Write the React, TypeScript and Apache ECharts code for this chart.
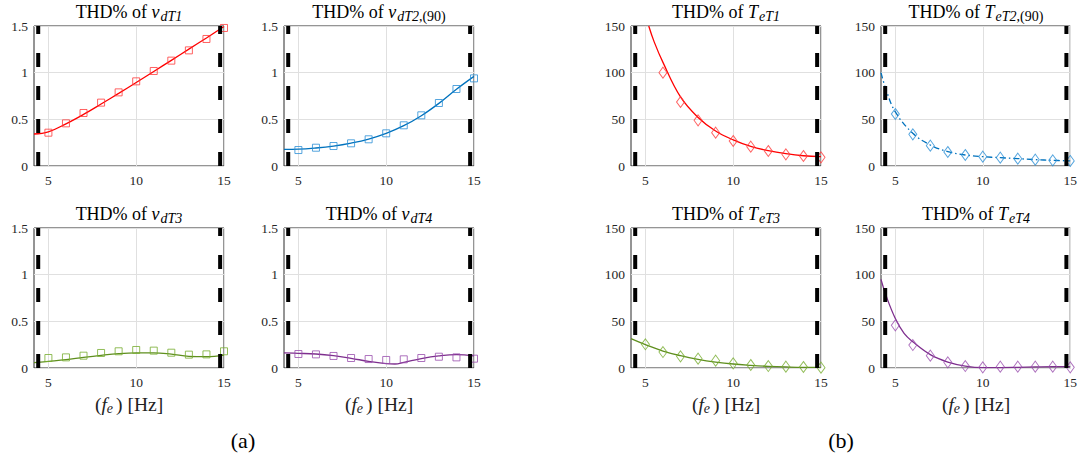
import React, { useEffect, useRef } from "react";
import * as echarts from "echarts";

// ---------- data ----------
const FE = [5, 6, 7, 8, 9, 10, 11, 12, 13, 14, 15];
const FE_TeT1 = [6, 7, 8, 9, 10, 11, 12, 13, 14, 15];

const X_MIN = 4.18;
const X_MAX = 15;
const LIMIT_LINES = [4.42, 14.78];
const X_TICKS = [5, 10, 15];

// measured THD% (markers)
const vdT1 = [0.357, 0.457, 0.568, 0.679, 0.789, 0.907, 1.018, 1.129, 1.239, 1.361, 1.479];
const vdT2 = [0.171, 0.196, 0.214, 0.243, 0.286, 0.35, 0.436, 0.543, 0.675, 0.825, 0.939];
const vdT3 = [0.107, 0.114, 0.132, 0.161, 0.179, 0.193, 0.186, 0.164, 0.143, 0.146, 0.179];
const vdT4 = [0.15, 0.146, 0.129, 0.107, 0.096, 0.086, 0.093, 0.107, 0.121, 0.114, 0.1];
const TeT1 = [100, 68.6, 48.9, 35.7, 26.8, 20.7, 16.1, 12.5, 10.7, 9.3];
const TeT2 = [55.7, 33.9, 21.8, 15, 11.8, 10, 8.9, 7.9, 6.8, 6.1, 5.4];
const TeT3 = [25.4, 17.1, 12.5, 10, 7.9, 5, 3.2, 2.1, 1.4, 1.1, 0.4];
const TeT4 = [45.7, 24.6, 13.2, 6.1, 2.1, 0.7, 1.4, 1.4, 1.4, 1.4, 0.7];

// fitted curves [fe, THD%]
const fit_vdT1 = [[4.18, 0.343], [5, 0.366], [6, 0.452], [7, 0.553], [8, 0.664], [9, 0.778], [10, 0.895], [11, 1.013], [12, 1.132], [13, 1.252], [14, 1.372], [15, 1.495]];
const fit_vdT2 = [[4.18, 0.178], [5, 0.18], [6, 0.193], [7, 0.214], [8, 0.246], [9, 0.289], [10, 0.35], [11, 0.432], [12, 0.539], [13, 0.671], [14, 0.822], [15, 0.96]];
const fit_vdT3 = [[4.18, 0.057], [5, 0.071], [6, 0.089], [7, 0.114], [8, 0.136], [9, 0.154], [10, 0.162], [11, 0.162], [12, 0.148], [13, 0.125], [14, 0.121], [15, 0.138]];
const fit_vdT4 = [[4.18, 0.161], [5, 0.157], [6, 0.15], [7, 0.132], [8, 0.104], [9, 0.071], [10, 0.046], [10.5, 0.043], [11, 0.06], [12, 0.1], [13, 0.129], [14, 0.143], [15, 0.129]];
const fit_TeT1 = [[5.19, 150], [5.5, 133], [6, 111], [7, 74], [8, 52], [9, 37.5], [10, 28], [11, 21], [12, 16.4], [13, 13.2], [14, 11], [15, 10]];
const fit_TeT2 = [[4.18, 100], [4.5, 80], [5, 58], [6, 35], [7, 22.5], [8, 15.4], [9, 11.8], [10, 10], [11, 8.9], [12, 7.9], [13, 6.8], [14, 6.1], [15, 5.4]];
const fit_TeT3 = [[4.18, 31.4], [5, 25], [6, 18.2], [7, 13.2], [8, 9.3], [9, 6.4], [10, 4.3], [11, 2.9], [12, 1.8], [13, 1.1], [14, 0.7], [15, 0.7]];
const fit_TeT4 = [[4.18, 95], [4.5, 76], [5, 53], [5.5, 37], [6, 28], [7, 14.3], [8, 6.4], [9, 2.1], [10, 0.4], [11, 0.4], [12, 0.7], [13, 1.1], [14, 1.4], [15, 1.4]];

const TITLES = [
  ["v", "dT1", ""],
  ["v", "dT2", ",(90)"],
  ["T", "eT1", ""],
  ["T", "eT2", ",(90)"],
  ["v", "dT3", ""],
  ["v", "dT4", ""],
  ["T", "eT3", ""],
  ["T", "eT4", ""],
];

const SERIF = "Liberation Serif";
const RED = "#ff0000";
const BLUE = "#0072bd";
const GREEN = "#5f8f1e";
const PURPLE = "#7e2f8e";

const COL_LEFT = [34, 284, 631, 881];
const ROW_TOP = [26, 228];
const GRID_W = 190;
const GRID_H = 140;

type Panel = {
  col: number;
  row: number;
  ymax: number;
  xs: number[];
  ys: number[];
  fit: number[][];
  symbol: string;
  color: string;
  marker: string;
  dash?: any;
};

const PANELS: Panel[] = [
  { col: 0, row: 0, ymax: 1.5, xs: FE, ys: vdT1, fit: fit_vdT1, symbol: "rect", color: RED, marker: "#ff3b3b" },
  { col: 1, row: 0, ymax: 1.5, xs: FE, ys: vdT2, fit: fit_vdT2, symbol: "rect", color: BLUE, marker: "#2b8fd6" },
  { col: 2, row: 0, ymax: 150, xs: FE_TeT1, ys: TeT1, fit: fit_TeT1, symbol: "diamond", color: RED, marker: "#ff3b3b" },
  { col: 3, row: 0, ymax: 150, xs: FE, ys: TeT2, fit: fit_TeT2, symbol: "diamond", color: BLUE, marker: "#2b8fd6", dash: [6, 3, 1.5, 3] },
  { col: 0, row: 1, ymax: 1.5, xs: FE, ys: vdT3, fit: fit_vdT3, symbol: "rect", color: GREEN, marker: "#77ac30" },
  { col: 1, row: 1, ymax: 1.5, xs: FE, ys: vdT4, fit: fit_vdT4, symbol: "rect", color: PURPLE, marker: "#9a4fae" },
  { col: 2, row: 1, ymax: 150, xs: FE, ys: TeT3, fit: fit_TeT3, symbol: "diamond", color: GREEN, marker: "#77ac30" },
  { col: 3, row: 1, ymax: 150, xs: FE, ys: TeT4, fit: fit_TeT4, symbol: "diamond", color: PURPLE, marker: "#9a4fae" },
];

const RICH = {
  n: { fontFamily: SERIF, fontSize: 18, fill: "#000", lineHeight: 22, verticalAlign: "middle" },
  i: { fontFamily: SERIF, fontSize: 18, fontStyle: "italic", fill: "#000", lineHeight: 22, verticalAlign: "middle", padding: [0, 1, 0, 0] },
  s: { fontFamily: SERIF, fontSize: 14, fontStyle: "italic", fill: "#000", lineHeight: 14, padding: [9, 0, 0, 0], verticalAlign: "middle" },
  u: { fontFamily: SERIF, fontSize: 14, fill: "#000", lineHeight: 14, padding: [9, 0, 0, 0], verticalAlign: "middle" },
};

function buildOption() {
  const grid: any[] = [];
  const xAxis: any[] = [];
  const yAxis: any[] = [];
  const series: any[] = [];
  const graphic: any[] = [];

  PANELS.forEach((p, k) => {
    const left = COL_LEFT[p.col];
    const top = ROW_TOP[p.row];
    grid.push({
      left,
      top,
      width: GRID_W,
      height: GRID_H,
      show: true,
      borderColor: "#2b2b2b",
      borderWidth: 1,
      backgroundColor: "transparent",
    });
    xAxis.push({
      type: "value",
      gridIndex: k,
      min: X_MIN,
      max: X_MAX,
      axisLine: { show: false },
      axisTick: { show: false, customValues: X_TICKS },
      axisLabel: {
        customValues: X_TICKS,
        color: "#262626",
        fontFamily: SERIF,
        fontSize: 13.5,
        margin: 7,
      },
      splitLine: { show: true, lineStyle: { color: "#e0e0e0", width: 1 } },
    });
    yAxis.push({
      type: "value",
      gridIndex: k,
      min: 0,
      max: p.ymax,
      interval: p.ymax / 3,
      axisLine: { show: false },
      axisTick: { show: false },
      axisLabel: {
        color: "#262626",
        fontFamily: SERIF,
        fontSize: 13.5,
        margin: 6,
      },
      splitLine: { show: true, lineStyle: { color: "#e0e0e0", width: 1 } },
    });
    series.push({
      type: "line",
      xAxisIndex: k,
      yAxisIndex: k,
      data: p.fit,
      showSymbol: false,
      smooth: 0.4,
      clip: true,
      lineStyle: { color: p.color, width: 1.3, type: p.dash || "solid" },
      z: 3,
    });
    series.push({
      type: "scatter",
      xAxisIndex: k,
      yAxisIndex: k,
      data: p.xs.map((x, j) => [x, p.ys[j]]),
      symbol: p.symbol,
      symbolSize: p.symbol === "rect" ? 7 : [8, 11],
      clip: true,
      itemStyle: { color: "rgba(0,0,0,0)", borderColor: p.marker, borderWidth: 1 },
      z: 4,
    });
    LIMIT_LINES.forEach((lx) => {
      series.push({
        type: "line",
        xAxisIndex: k,
        yAxisIndex: k,
        data: [
          [lx, 0],
          [lx, p.ymax],
        ],
        showSymbol: false,
        lineStyle: { color: "#000", width: 4, type: [14, 19] },
        z: 5,
      });
    });

    const [v, sub, sub2] = TITLES[k];
    const cx = left + GRID_W / 2;
    graphic.push({
      type: "text",
      x: cx,
      y: top - 14,
      style: {
        text: `{n|THD% of }{i|${v}}{s|${sub}}` + (sub2 ? `{u|${sub2}}` : ""),
        rich: RICH,
        fontFamily: SERIF,
        fontSize: 18,
        align: "center",
        verticalAlign: "middle",
      },
    });
    if (p.row === 1) {
      graphic.push({
        type: "text",
        x: cx,
        y: 404,
        style: {
          text: "{n|(}{i|f}{s|e}{n|) [Hz]}",
          fontFamily: SERIF,
          fontSize: 19,
          rich: {
            n: { fontFamily: SERIF, fontSize: 19.5, fill: "#222", lineHeight: 22, verticalAlign: "middle" },
            i: { fontFamily: SERIF, fontSize: 19.5, fontStyle: "italic", fill: "#222", lineHeight: 22, verticalAlign: "middle" },
            s: { fontFamily: SERIF, fontSize: 14, fontStyle: "italic", fill: "#222", lineHeight: 14, padding: [9, 3, 0, 0], verticalAlign: "middle" },
          },
          align: "center",
          verticalAlign: "middle",
        },
      });
    }
  });

  graphic.push({
    type: "text",
    x: 243,
    y: 440,
    style: { text: "(a)", fontFamily: SERIF, fontSize: 22, fill: "#000", align: "center", verticalAlign: "middle" },
  });
  graphic.push({
    type: "text",
    x: 841,
    y: 440,
    style: { text: "(b)", fontFamily: SERIF, fontSize: 22, fill: "#000", align: "center", verticalAlign: "middle" },
  });

  return {
    animation: false,
    backgroundColor: "#ffffff",
    textStyle: { fontFamily: SERIF },
    grid,
    xAxis,
    yAxis,
    series,
    graphic,
  };
}

export default function App() {
  const ref = useRef<HTMLDivElement>(null);
  useEffect(() => {
    if (!ref.current) return;
    const chart = echarts.init(ref.current, null, { renderer: "svg" });
    chart.setOption(buildOption() as any);
    return () => chart.dispose();
  }, []);
  return (
    <div
      ref={ref}
      style={{ position: "fixed", left: 0, top: 0, width: 1080, height: 456, background: "#fff" }}
    />
  );
}
